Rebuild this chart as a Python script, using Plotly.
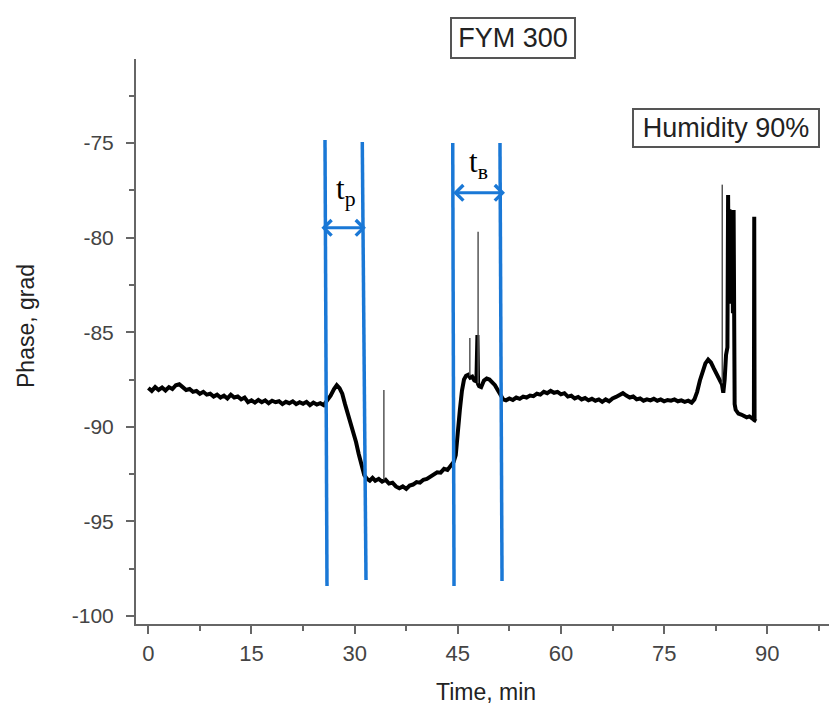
import plotly.graph_objects as go

# ---- main phase trace (time in min, phase in grad) ----
time = [
    0.0, 0.5, 1.0, 1.5, 2.0, 2.5, 3.0, 3.5, 4.0, 4.5, 5.0, 5.5, 6.0, 6.5, 7.0, 7.5,
    8.0, 8.5, 9.0, 9.5, 10.0, 10.5, 11.0, 11.5, 12.0, 12.5, 13.0, 13.5, 14.0, 14.5,
    15.0, 15.5, 16.0, 16.5, 17.0, 17.5, 18.0, 18.5, 19.0, 19.5, 20.0, 20.5, 21.0,
    21.5, 22.0, 22.5, 23.0, 23.5, 24.0, 24.5, 25.0, 25.5,
    26.0, 26.5, 27.0, 27.4, 27.8, 28.2, 28.6, 29.0, 29.4, 29.8, 30.2, 30.6, 31.0,
    31.4, 31.8, 32.2, 32.6, 33.0, 33.5, 34.0, 34.5, 35.0, 35.5, 36.0, 36.5, 37.0,
    37.5, 38.0, 38.5, 39.0, 39.5, 40.0, 40.5, 41.0, 41.5, 42.0, 42.5, 43.0, 43.5,
    44.0, 44.4, 44.7, 44.9, 45.1, 45.3, 45.6, 45.9, 46.2, 46.5, 46.8, 47.1, 47.4,
    47.7, 47.85, 47.95, 48.1, 48.4, 48.8, 49.2, 49.6, 50.0, 50.4, 50.8, 51.2, 51.6,
    52.0, 52.5, 53.0, 53.5, 54.0, 54.5, 55.0, 55.5, 56.0, 56.5, 57.0, 57.5, 58.0,
    58.5, 59.0, 59.5, 60.0, 60.5, 61.0, 61.5, 62.0, 62.5, 63.0, 63.5, 64.0, 64.5,
    65.0, 65.5, 66.0, 66.5, 67.0, 67.5, 68.0, 68.5, 69.0, 69.5, 70.0, 70.5, 71.0,
    71.5, 72.0, 72.5, 73.0, 73.5, 74.0, 74.5, 75.0, 75.5, 76.0, 76.5, 77.0, 77.5,
    78.0, 78.5, 79.0, 79.4, 79.8, 80.2, 80.6, 81.0, 81.4, 81.8, 82.2, 82.6, 83.0,
    83.4, 83.6, 83.8, 84.0, 84.2, 84.3, 84.4, 84.5, 84.6, 84.7, 84.8, 84.9, 85.0,
    85.1, 85.15, 85.25, 85.4, 85.8, 86.2, 86.6, 87.0, 87.4, 87.8, 88.05, 88.1,
    88.15, 88.4,
]
phase = [
    -87.95, -88.10, -87.90, -88.05, -87.92, -88.08, -87.90, -88.00, -87.80, -87.75,
    -87.90, -88.05, -88.00, -88.15, -88.10, -88.25, -88.15, -88.30, -88.25, -88.40,
    -88.30, -88.45, -88.35, -88.50, -88.30, -88.45, -88.40, -88.55, -88.45, -88.70,
    -88.60, -88.72, -88.58, -88.70, -88.60, -88.75, -88.62, -88.70, -88.65, -88.80,
    -88.68, -88.75, -88.65, -88.80, -88.70, -88.78, -88.68, -88.85, -88.72, -88.82,
    -88.75, -88.85,
    -88.60, -88.35, -88.00, -87.80, -87.95, -88.25, -88.80, -89.30, -89.75, -90.20,
    -90.80, -91.45, -92.00, -92.55, -92.75, -92.85, -92.70, -92.85, -92.75, -92.90,
    -92.80, -93.00, -92.95, -93.15, -93.25, -93.15, -93.28, -93.10, -93.05, -92.92,
    -92.95, -92.80, -92.75, -92.62, -92.55, -92.40, -92.42, -92.22, -92.28, -92.05,
    -91.85, -91.50, -90.60, -89.80, -89.10, -88.10, -87.50, -87.30, -87.25, -87.40,
    -87.35, -87.55, -87.60, -85.15, -87.75, -87.85, -87.90, -87.55, -87.45, -87.50,
    -87.65, -87.80, -88.05, -88.35, -88.55, -88.60, -88.50, -88.58, -88.45, -88.52,
    -88.40, -88.45, -88.35, -88.38, -88.25, -88.30, -88.15, -88.22, -88.10, -88.20,
    -88.15, -88.28, -88.22, -88.40, -88.35, -88.50, -88.42, -88.55, -88.48, -88.60,
    -88.52, -88.62, -88.55, -88.68, -88.55, -88.65, -88.50, -88.42, -88.30, -88.22,
    -88.35, -88.45, -88.40, -88.55, -88.50, -88.62, -88.55, -88.60, -88.52, -88.62,
    -88.55, -88.65, -88.58, -88.62, -88.55, -88.65, -88.60, -88.68, -88.62, -88.72,
    -88.55, -88.15, -87.55, -87.05, -86.65, -86.45, -86.60, -86.90, -87.20, -87.45,
    -87.75, -88.20, -87.50, -86.20, -85.80, -77.75, -83.00, -78.50, -83.50, -78.60,
    -83.00, -78.55, -84.00, -78.54, -87.00, -88.80, -89.10, -89.30, -89.35, -89.45,
    -89.50, -89.45, -89.60, -89.62, -78.90, -89.65, -89.70,
]

# thin single-point spikes
spike_time = [34.25, 46.75, 47.95, 83.45]
spike_base = [-92.80, -87.30, -87.70, -87.70]
spike_top = [-88.05, -85.30, -79.69, -77.20]

# blue interval markers (top/bottom ends)
marker_top_x = [25.69, 31.11, 44.26, 51.13]
marker_bottom_x = [25.98, 31.65, 44.45, 51.43]
marker_top_y = [-74.84, -74.95, -75.00, -75.00]
marker_bottom_y = [-98.41, -98.10, -98.41, -98.15]

# interval arrows and labels
interval_labels = ["t<sub>р</sub>", "t<sub>в</sub>"]
interval_start = [24.95, 44.11]
interval_end = [31.64, 51.86]
interval_arrow_y = [-79.48, -77.63]
interval_label_x = [28.6, 47.95]
interval_label_y = [-77.55, -76.10]

x_ticks = [0, 15, 30, 45, 60, 75, 90]
y_ticks = [-100, -95, -90, -85, -80, -75]

BLUE = "#1a78d6"
AXIS = "#666666"
SANS = "Liberation Sans, Arial, sans-serif"
SERIF = "Liberation Serif, Times New Roman, serif"

L, R, T, B, W, H = 136, 1, 59, 87, 830, 711
pw, ph = W - L - R, H - T - B


def px(x):
    return (x - L) / pw


def py(y):
    return (H - B - y) / ph


fig = go.Figure()

fig.add_trace(go.Scatter(x=time, y=phase, mode="lines",
                         line=dict(color="black", width=4), hoverinfo="skip"))

sx, sy = [], []
for t, b, top in zip(spike_time, spike_base, spike_top):
    sx += [t, t, None]
    sy += [b, top, None]
fig.add_trace(go.Scatter(x=sx, y=sy, mode="lines",
                         line=dict(color="#555555", width=1.5), hoverinfo="skip"))

mx, my = [], []
for x0, x1, y0, y1 in zip(marker_top_x, marker_bottom_x, marker_top_y, marker_bottom_y):
    mx += [x0, x1, None]
    my += [y0, y1, None]
fig.add_trace(go.Scatter(x=mx, y=my, mode="lines",
                         line=dict(color=BLUE, width=3.5), hoverinfo="skip"))

annotations = []
for lab, x0, x1, ya, lx, ly in zip(interval_labels, interval_start, interval_end,
                                   interval_arrow_y, interval_label_x, interval_label_y):
    annotations.append(dict(x=x1, y=ya, ax=x0, ay=ya, xref="x", yref="y",
                            axref="x", ayref="y", text="", showarrow=True,
                            arrowhead=4, startarrowhead=4, arrowside="end+start",
                            arrowsize=1, startarrowsize=1, arrowwidth=3,
                            arrowcolor=BLUE, standoff=0, startstandoff=0))
    annotations.append(dict(x=lx, y=ly, xref="x", yref="y", text=lab,
                            showarrow=False,
                            font=dict(family=SERIF, size=31, color="black")))

annotations.append(dict(x=px(513), y=py(38), xref="paper", yref="paper",
                        xanchor="center", yanchor="middle", text="FYM 300",
                        showarrow=False, width=120, height=36,
                        bordercolor="#555555", borderwidth=2, borderpad=1,
                        bgcolor="white",
                        font=dict(family=SANS, size=27, color="#222222")))
annotations.append(dict(x=px(726), y=py(128), xref="paper", yref="paper",
                        xanchor="center", yanchor="middle", text="Humidity 90%",
                        showarrow=False, width=182, height=34,
                        bordercolor="#555555", borderwidth=2, borderpad=1,
                        bgcolor="white",
                        font=dict(family=SANS, size=27, color="#222222")))
annotations.append(dict(x=px(486), y=py(692), xref="paper", yref="paper",
                        xanchor="center", yanchor="middle", text="Time, min",
                        showarrow=False,
                        font=dict(family=SANS, size=23, color="#222222")))
annotations.append(dict(x=px(26), y=py(326), xref="paper", yref="paper",
                        xanchor="center", yanchor="middle", text="Phase, grad",
                        showarrow=False, textangle=-90,
                        font=dict(family=SANS, size=23, color="#222222")))

fig.update_layout(
    width=W, height=H,
    margin=dict(l=L, r=R, t=T, b=B, pad=0),
    plot_bgcolor="white", paper_bgcolor="white",
    showlegend=False,
    annotations=annotations,
    xaxis=dict(range=[-1.79, 98.97], tickmode="array", tickvals=x_ticks,
               ticktext=[str(v) for v in x_ticks],
               showline=True, linecolor=AXIS, linewidth=2,
               ticks="outside", ticklen=8, tickwidth=1.5, tickcolor=AXIS,
               minor=dict(dtick=7.5, tick0=0, ticks="outside", ticklen=5,
                          tickwidth=1.5, tickcolor=AXIS, showgrid=False),
               tickfont=dict(family=SANS, size=22, color="#444444"),
               showgrid=False, zeroline=False, ticklabelstandoff=1),
    yaxis=dict(range=[-100.42, -70.56], tickmode="array", tickvals=y_ticks,
               ticktext=[str(v) for v in y_ticks],
               showline=True, linecolor=AXIS, linewidth=2,
               ticks="outside", ticklen=8, tickwidth=1.5, tickcolor=AXIS,
               minor=dict(dtick=2.5, tick0=0, ticks="outside", ticklen=5,
                          tickwidth=1.5, tickcolor=AXIS, showgrid=False),
               tickfont=dict(family=SANS, size=21, color="#444444"),
               showgrid=False, zeroline=False, ticklabelstandoff=8),
)

fig.write_html("out.html")
